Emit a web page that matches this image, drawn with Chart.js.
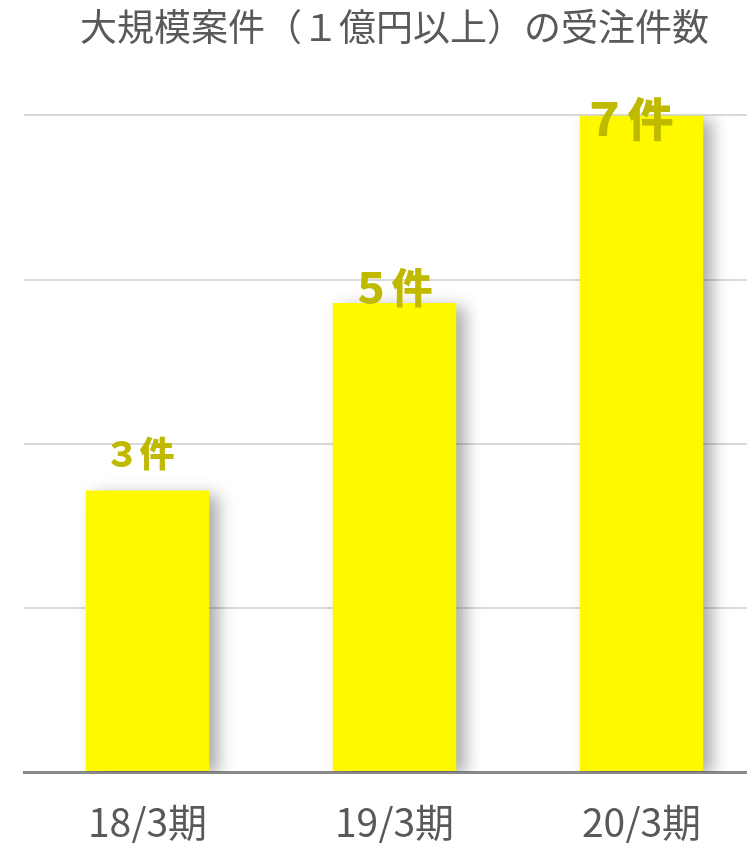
<!DOCTYPE html>
<html>
<head>
<meta charset="utf-8">
<script src="https://cdn.jsdelivr.net/npm/chart.js@4"></script>
<style>
  html, body { margin: 0; padding: 0; background: #fff; overflow: hidden; }
  #wrap { width: 770px; height: 843px; }
</style>
</head>
<body>
<div id="wrap"><canvas id="orderChart" width="770" height="843"></canvas></div>
<script>
// 受注件数
const periods = ['18/3期', '19/3期', '20/3期'];
const orderCounts = [3, 5, 7];
const yTicks = [0, 1.75, 3.5, 5.25, 7];

// ラベルの見た目（位置・サイズ）
const labelDx = [-8, -3, -14];
const labelDy = [-37, -16, 3];
const labelSize = [35, 41, 46];

const toZenkaku = n => String(n).replace(/[0-9]/g, d => String.fromCharCode(d.charCodeAt(0) + 0xFEE0));

const barShadow = {
  id: 'barShadow',
  beforeDatasetsDraw(chart) {
    const ctx = chart.ctx;
    ctx.save();
    ctx.shadowColor = 'rgba(0,0,0,0.34)';
    ctx.shadowBlur = 16;
    ctx.shadowOffsetX = 9;
    ctx.shadowOffsetY = 4;
  },
  afterDatasetsDraw(chart) {
    const ctx = chart.ctx;
    ctx.restore();
    const meta = chart.getDatasetMeta(0);
    ctx.save();
    ctx.fillStyle = '#BFB900';
    ctx.textAlign = 'center';
    ctx.textBaseline = 'middle';
    meta.data.forEach((bar, i) => {
      ctx.font = '900 ' + labelSize[i] + 'px "Noto Sans CJK JP", sans-serif';
      ctx.fillText(toZenkaku(orderCounts[i]) + '件', bar.x + labelDx[i], bar.y + labelDy[i]);
    });
    ctx.restore();
  }
};

new Chart(document.getElementById('orderChart'), {
  type: 'bar',
  data: {
    labels: periods,
    datasets: [{
      data: orderCounts,
      backgroundColor: '#FFF900',
      barPercentage: 0.5,
      categoryPercentage: 1
    }]
  },
  options: {
    responsive: false,
    animation: false,
    layout: { padding: { left: 24, right: 5, top: 0, bottom: 0 } },
    plugins: {
      legend: { display: false },
      tooltip: { enabled: false },
      title: {
        display: true,
        text: '大規模案件（１億円以上）の受注件数',
        color: '#595959',
        font: { family: '"Noto Sans CJK JP", sans-serif', size: 37, weight: 'normal' },
        padding: { top: 5, bottom: 66 }
      }
    },
    scales: {
      x: {
        grid: { display: false, drawTicks: false },
        border: { color: '#898989', width: 3 },
        afterFit: axis => { axis.height = 71; },
        ticks: {
          color: '#595959',
          padding: 27,
          font: { family: '"Noto Sans CJK JP", sans-serif', size: 39 }
        }
      },
      y: {
        min: 0,
        max: 7,
        afterBuildTicks: axis => { axis.ticks = yTicks.map(v => ({ value: v })); },
        ticks: { display: false },
        grid: { color: '#D9D9D9', lineWidth: 2, drawTicks: false },
        border: { display: false }
      }
    }
  },
  plugins: [barShadow]
});
</script>
</body>
</html>
